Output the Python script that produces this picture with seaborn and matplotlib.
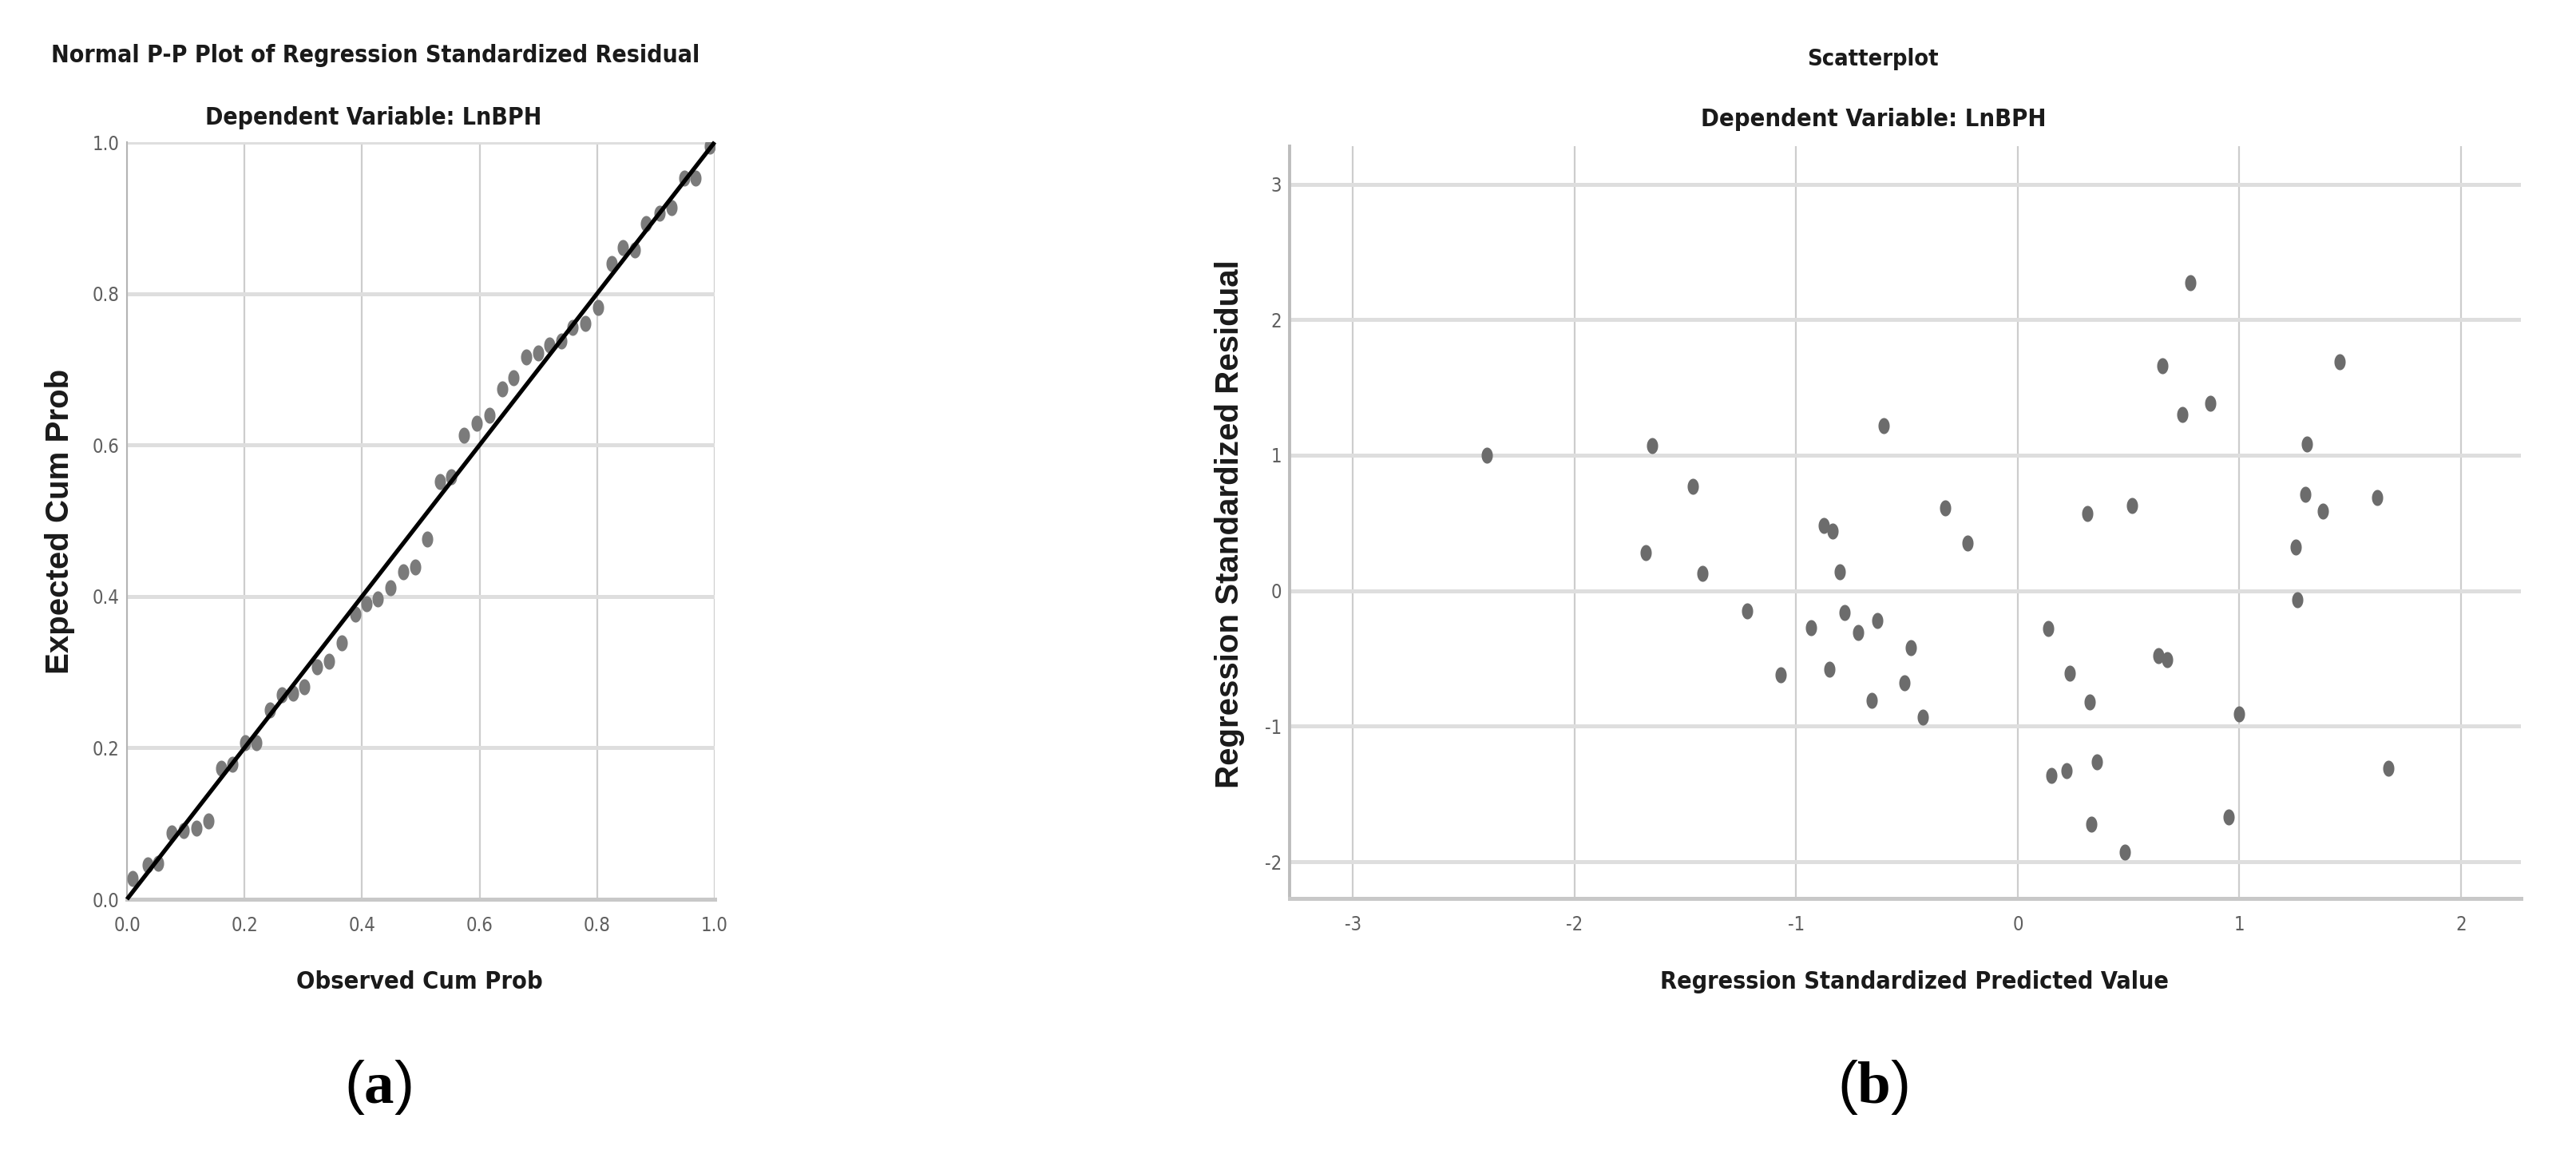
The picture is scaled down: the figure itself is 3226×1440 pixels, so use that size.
import os
import numpy as np
import matplotlib
matplotlib.use("Agg")
import matplotlib.pyplot as plt
import matplotlib.font_manager as fm
from matplotlib.font_manager import FontProperties
import seaborn as sns

# ---------------- data ----------------
# (a) Normal P-P plot
observed_cum_prob = [0.010, 0.035, 0.053, 0.076, 0.096, 0.118, 0.139, 0.161, 0.180, 0.201,
                     0.220, 0.243, 0.263, 0.283, 0.302, 0.324, 0.344, 0.365, 0.388, 0.408,
                     0.427, 0.449, 0.470, 0.491, 0.511, 0.532, 0.552, 0.574, 0.595, 0.617,
                     0.638, 0.657, 0.679, 0.700, 0.719, 0.739, 0.758, 0.780, 0.801, 0.825,
                     0.844, 0.864, 0.883, 0.906, 0.926, 0.948, 0.967, 0.992]
expected_cum_prob = [0.027, 0.045, 0.047, 0.088, 0.091, 0.094, 0.103, 0.173, 0.178, 0.207,
                     0.207, 0.250, 0.270, 0.272, 0.281, 0.307, 0.314, 0.339, 0.377, 0.390,
                     0.397, 0.411, 0.433, 0.439, 0.476, 0.552, 0.558, 0.613, 0.629, 0.639,
                     0.674, 0.689, 0.716, 0.722, 0.732, 0.737, 0.755, 0.761, 0.782, 0.840,
                     0.861, 0.858, 0.892, 0.906, 0.914, 0.953, 0.953, 0.995]
reference_line = [0.0, 1.0]
pp_ticks = [0.0, 0.2, 0.4, 0.6, 0.8, 1.0]

# (b) Scatterplot
predicted_value = [0.780, 0.652, 1.452, 0.867, 0.742, -0.606, 1.306, -2.396, -1.651, -1.464,
                   -0.874, -0.837, -1.678, -1.423, -0.803, -1.220, -0.782, -0.931, -0.721, -1.071,
                   -0.849, -0.328, -0.226, 0.313, 0.516, 1.296, 1.375, 1.620, 1.254, 1.260,
                   -0.633, -0.481, 0.136, -0.512, 0.633, 0.675, 0.234, -0.658, 0.324, -0.428,
                   0.999, 0.153, 0.219, 0.357, 1.672, 0.951, 0.332, 0.483]
std_residual = [2.27, 1.66, 1.69, 1.38, 1.30, 1.22, 1.08, 1.00, 1.07, 0.77,
                0.48, 0.44, 0.28, 0.13, 0.14, -0.15, -0.16, -0.27, -0.31, -0.62,
                -0.58, 0.61, 0.35, 0.57, 0.63, 0.71, 0.59, 0.69, 0.32, -0.065,
                -0.22, -0.42, -0.28, -0.68, -0.48, -0.51, -0.61, -0.81, -0.82, -0.93,
                -0.91, -1.36, -1.33, -1.26, -1.31, -1.67, -1.72, -1.93]
sc_xticks = [-3, -2, -1, 0, 1, 2]
sc_yticks = [-2, -1, 0, 1, 2, 3]

# ---------------- fonts ----------------
sns.set_theme(style="white")
names = {f.name for f in fm.fontManager.ttflist}
WIDE = "Liberation Sans" if "Liberation Sans" in names else "DejaVu Sans"
SERIF = "Liberation Serif" if "Liberation Serif" in names else "DejaVu Serif"
plt.rcParams["font.family"] = [WIDE, "DejaVu Sans"]
plt.rcParams["mathtext.fontset"] = "custom"
plt.rcParams["mathtext.rm"] = SERIF
plt.rcParams["mathtext.bf"] = SERIF + ":bold"


def find_font(keys):
    files = [f.fname for f in fm.fontManager.ttflist]
    for k in keys:
        for fn in files:
            if os.path.basename(fn).lower().startswith(k.lower()):
                return fn
    return None


nb = find_font(["LiberationSansNarrow-Bold.", "ArialNarrow-Bold", "NotoSans-CondensedBold",
                "DejaVuSansCondensed-Bold.", "RobotoCondensed-Bold", "OpenSans_Condensed-Bold",
                "OpenSansCondensed-Bold"])
nr = find_font(["LiberationSansNarrow-Regular", "ArialNarrow.", "NotoSans-Condensed.",
                "DejaVuSansCondensed.", "RobotoCondensed-Regular", "OpenSans_Condensed-Regular",
                "OpenSansCondensed-Regular"])
FP_NB = FontProperties(fname=nb) if nb else FontProperties(family=WIDE, weight="bold")
FP_NR = FontProperties(fname=nr) if nr else FontProperties(family=WIDE)

W, H = 3226, 1440
DPI = 100
fig = plt.figure(figsize=(W / DPI, H / DPI), dpi=DPI)
fig.patch.set_facecolor("white")


def fx(x):
    return x / W


def fy(y):
    return 1 - y / H


# ellipse marker (taller than wide)
t = np.linspace(0, 2 * np.pi, 40)
ellipse = list(zip(0.7 * np.cos(t), np.sin(t)))

HGRID = dict(color="#dedede", linewidth=3.6)
VGRID = dict(color="#cdcdcd", linewidth=1.6)
TICKCOL = "#5f5f5f"


def style_axes(ax, left_lw, left_col):
    ax.set_axisbelow(True)
    ax.tick_params(axis="x", length=0, pad=15)
    ax.tick_params(axis="y", length=0, pad=7)
    for s in ["top", "right"]:
        ax.spines[s].set_visible(False)
    ax.spines["left"].set_color(left_col)
    ax.spines["left"].set_linewidth(left_lw)
    ax.spines["bottom"].set_color("#c8c8c8")
    ax.spines["bottom"].set_linewidth(3.6)
    ax.set_xlabel("")
    ax.set_ylabel("")
    ax.xaxis.grid(True, **VGRID)
    ax.yaxis.grid(True, **HGRID)


# ---------------- (a) P-P plot ----------------
axL = fig.add_axes([fx(159), fy(1126), fx(895) - fx(159), fy(178) - fy(1126)])
axL.set_xlim(0, 1)
axL.set_ylim(0, 1)
sns.scatterplot(x=observed_cum_prob, y=expected_cum_prob, ax=axL, marker=ellipse,
                s=210, color="#7b7b7b", linewidth=0, zorder=3, legend=False)
axL.plot(reference_line, reference_line, color="black", linewidth=3.8,
         solid_capstyle="butt", zorder=4, clip_on=False)
axL.set_xticks(pp_ticks)
axL.set_yticks(pp_ticks)
axL.set_xticklabels([f"{v:.1f}" for v in pp_ticks], fontproperties=FP_NR, color=TICKCOL)
axL.set_yticklabels([f"{v:.1f}" for v in pp_ticks], fontproperties=FP_NR, color=TICKCOL)
style_axes(axL, 1.5, "#b5b5b5")

# ---------------- (b) Scatterplot ----------------
axR = fig.add_axes([fx(1615), fy(1125), fx(3157) - fx(1615), fy(183) - fy(1125)])
axR.set_xlim(-3.285, 2.27)
axR.set_ylim(-2.27, 3.28)
sns.scatterplot(x=predicted_value, y=std_residual, ax=axR, marker=ellipse,
                s=210, color="#6c6c6c", linewidth=0, zorder=3, legend=False)
axR.set_xticks(sc_xticks)
axR.set_yticks(sc_yticks)
axR.set_xticklabels([str(v) for v in sc_xticks], fontproperties=FP_NR, color=TICKCOL)
axR.set_yticklabels([str(v) for v in sc_yticks], fontproperties=FP_NR, color=TICKCOL)
style_axes(axR, 2.8, "#bdbdbd")

# ---------------- texts ----------------
sized = []  # (text artist, target width in px)


def ntext(x, y, s, target):
    tt = fig.text(fx(x), fy(y), s, fontproperties=FP_NB.copy(), color="#1a1a1a",
                  ha="center", va="center")
    tt.set_fontsize(28)
    sized.append((tt, target))
    return tt


ntext(470, 70, "Normal P-P Plot of Regression Standardized Residual", 813)
ntext(468, 147, "Dependent Variable: LnBPH", 422)
ntext(2345, 74, "Scatterplot", 165)
ntext(2346, 149, "Dependent Variable: LnBPH", 432)
ntext(525, 1230, "Observed Cum Prob", 309)
ntext(2397, 1229, "Regression Standardized Predicted Value", 638)

YLAB = dict(family=WIDE, size=29, weight="bold", color="#1a1a1a", ha="center", va="center",
            rotation=90)
fig.text(fx(75), fy(653), "Expected Cum Prob", **YLAB)
fig.text(fx(1540), fy(656), "Regression Standardized Residual", **YLAB)

PANEL = dict(size=54, color="black", ha="center", va="center")
fig.text(fx(473), fy(1362), r"($\mathbf{a}$)", **PANEL)
fig.text(fx(2346), fy(1362), r"($\mathbf{b}$)", **PANEL)

# fit the narrow texts to the widths measured on the reference
fig.canvas.draw()
rend = fig.canvas.get_renderer()
for tt, target in sized:
    w = tt.get_window_extent(rend).width
    tt.set_fontsize(tt.get_fontsize() * target / w)

# tick labels: "0.8" is about 31-34 px wide in the reference
probe = axL.get_yticklabels()[4]
probe.set_fontsize(20)
fig.canvas.draw()
w = probe.get_window_extent(rend).width
tick_size = 20 * 34 / w
for ax in (axL, axR):
    for lab in ax.get_xticklabels() + ax.get_yticklabels():
        lab.set_fontsize(tick_size)

fig.savefig("out.png", dpi=DPI, facecolor="white")
